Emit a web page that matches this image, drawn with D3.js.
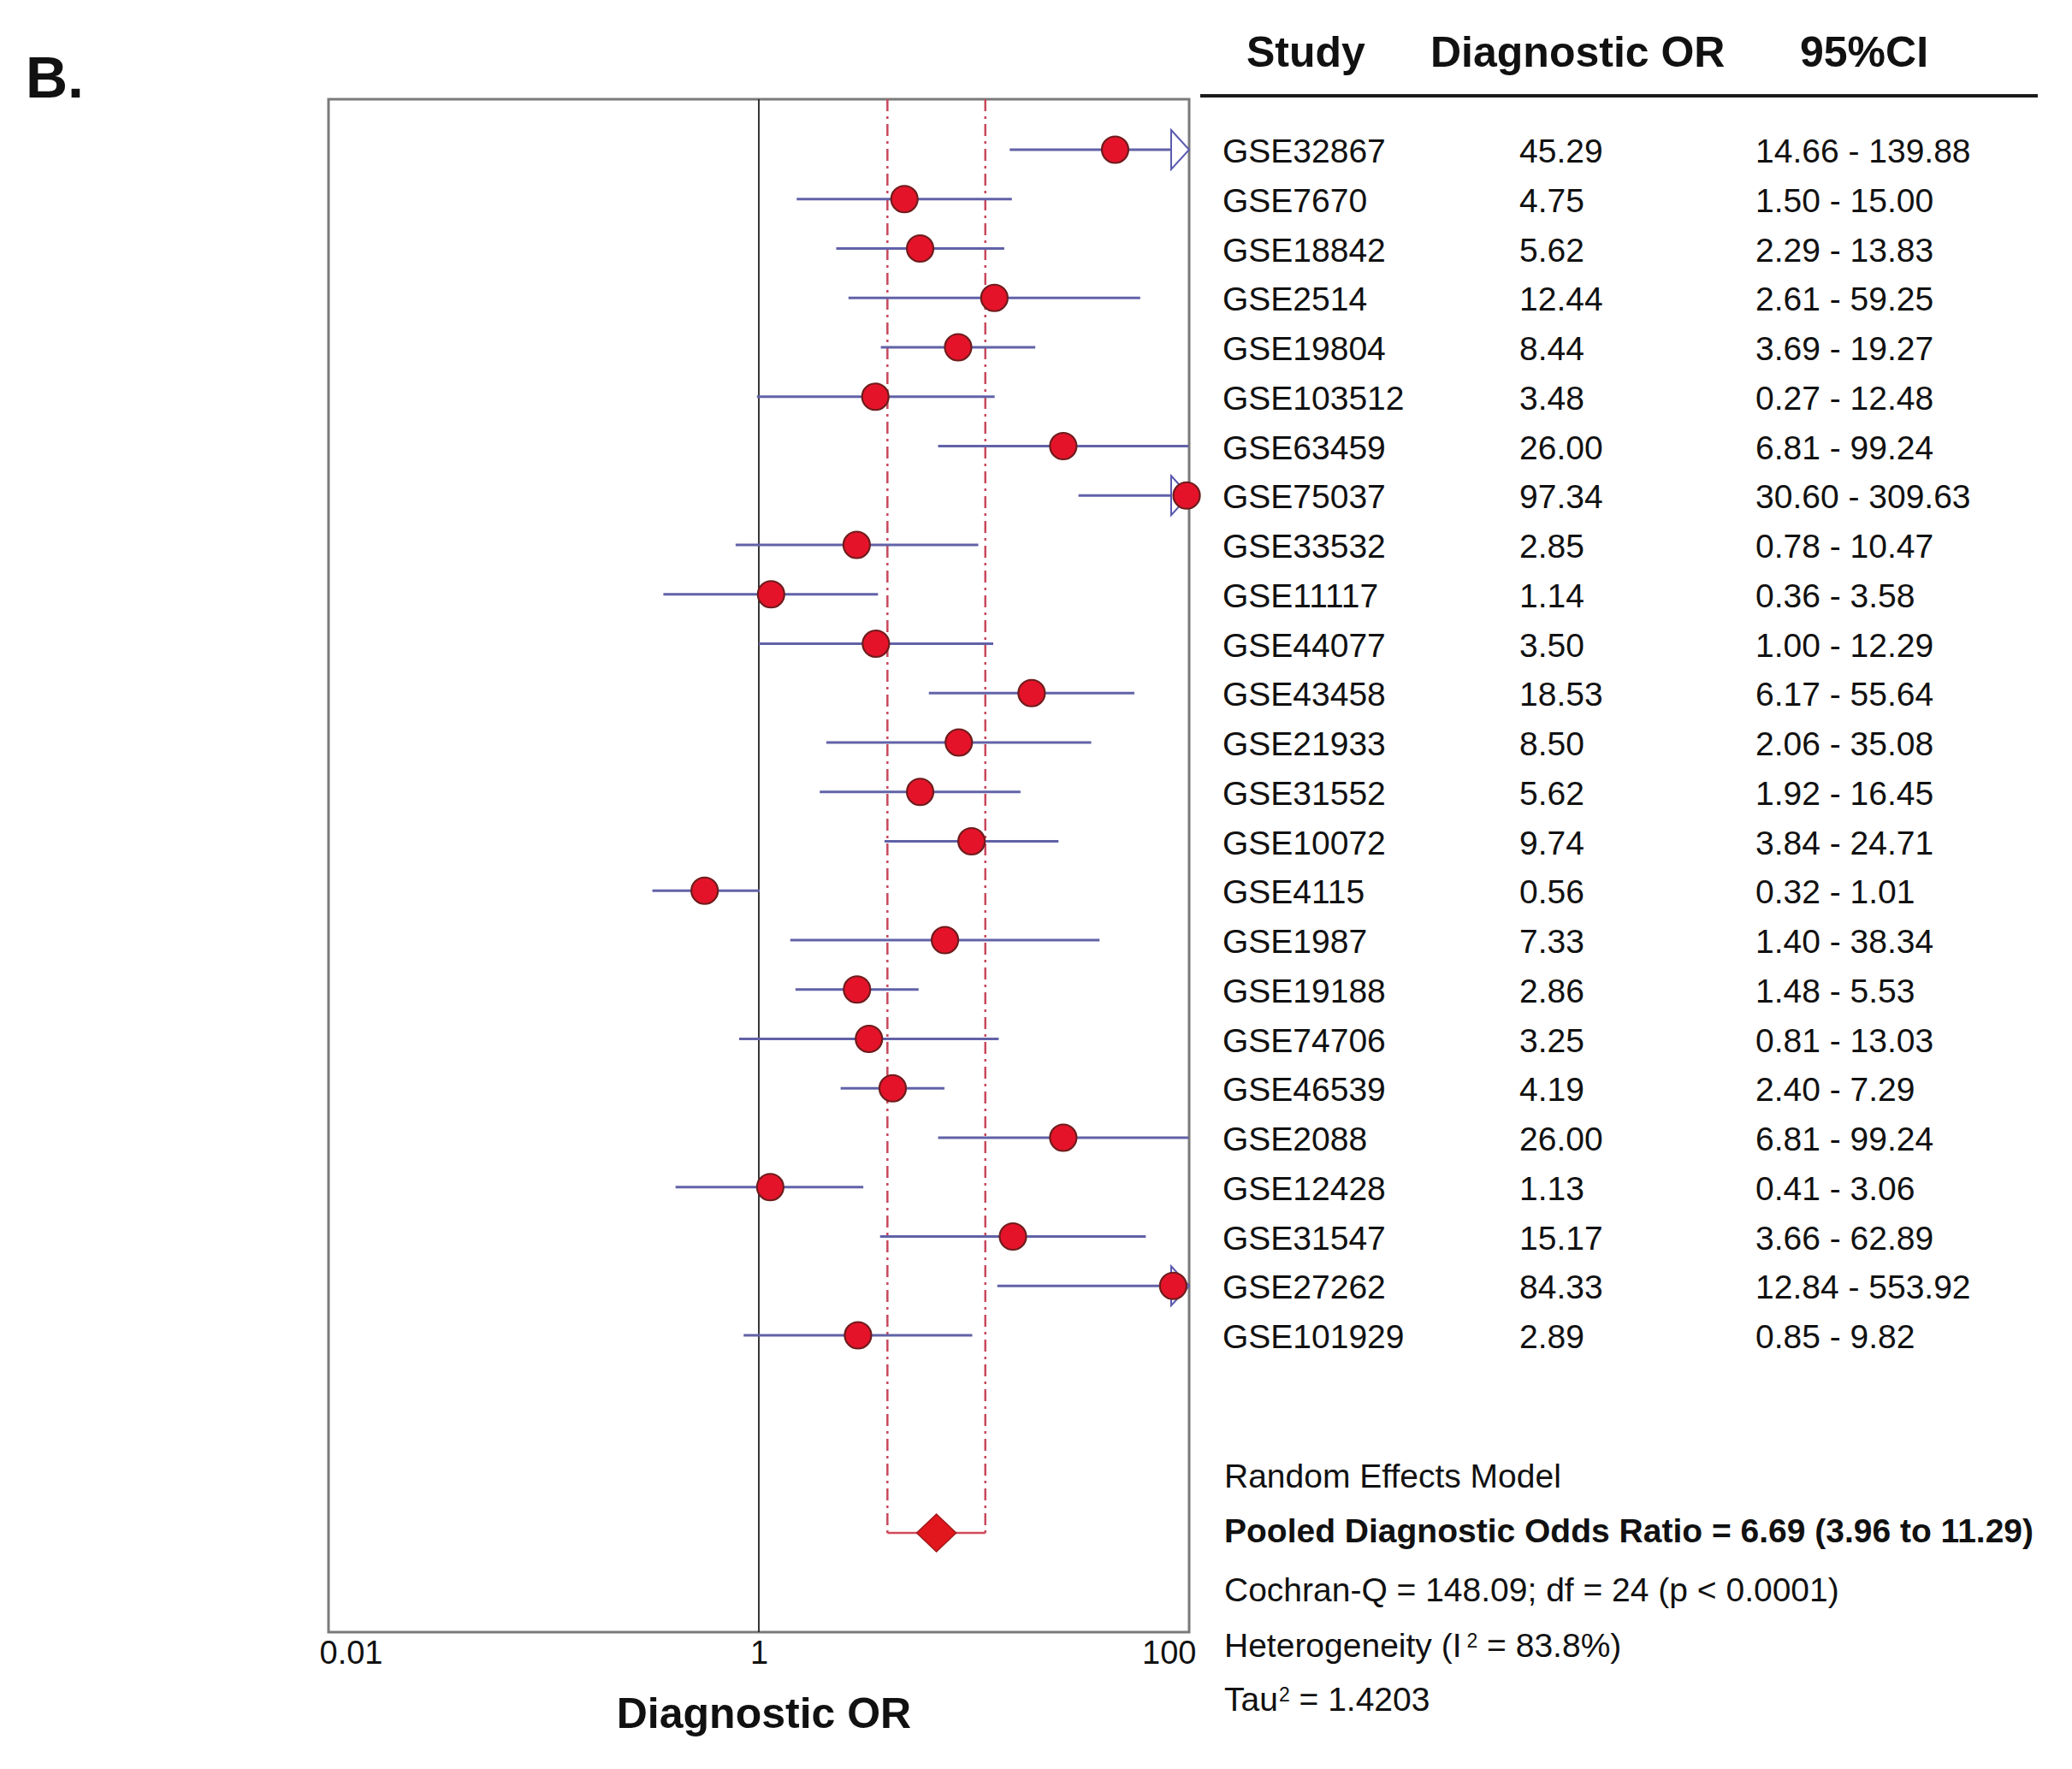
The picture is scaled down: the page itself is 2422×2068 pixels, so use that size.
<!DOCTYPE html>
<html>
<head>
<meta charset="utf-8">
<script src="https://cdn.jsdelivr.net/npm/d3@7"></script>
<style>
  body { margin: 0; background: #fff; }
  text { font-family: "Liberation Sans", Arial, sans-serif; fill: #111; }
</style>
</head>
<body>
<div id="chart"></div>
<script>
// Study rows, top to bottom.
const studies = ["GSE32867", "GSE7670", "GSE18842", "GSE2514", "GSE19804", "GSE103512",
  "GSE63459", "GSE75037", "GSE33532", "GSE11117", "GSE44077", "GSE43458", "GSE21933",
  "GSE31552", "GSE10072", "GSE4115", "GSE1987", "GSE19188", "GSE74706", "GSE46539",
  "GSE2088", "GSE12428", "GSE31547", "GSE27262", "GSE101929"];

// Diagnostic odds ratio of each study and its 95% CI (as drawn).
const dor = [45.29, 4.75, 5.62, 12.44, 8.44, 3.48, 26.00, 97.34, 2.85, 1.14, 3.50, 18.53,
  8.50, 5.62, 9.74, 0.56, 7.33, 2.86, 3.25, 4.19, 26.00, 1.13, 15.17, 84.33, 2.89];
const ciLow = [14.66, 1.50, 2.29, 2.61, 3.69, 0.98, 6.81, 30.60, 0.78, 0.36, 1.00, 6.17,
  2.06, 1.92, 3.84, 0.32, 1.40, 1.48, 0.81, 2.40, 6.81, 0.41, 3.66, 12.84, 0.85];
const ciHigh = [139.88, 15.00, 13.83, 59.25, 19.27, 12.48, 99.24, 309.63, 10.47, 3.58, 12.29,
  55.64, 35.08, 16.45, 24.71, 1.01, 38.34, 5.53, 13.03, 7.29, 99.24, 3.06, 62.89, 553.92, 9.82];

// Text columns of the table.
const dorLabels = ["45.29", "4.75", "5.62", "12.44", "8.44", "3.48", "26.00", "97.34", "2.85",
  "1.14", "3.50", "18.53", "8.50", "5.62", "9.74", "0.56", "7.33", "2.86", "3.25", "4.19",
  "26.00", "1.13", "15.17", "84.33", "2.89"];
const ciLabels = ["14.66 - 139.88", "1.50 - 15.00", "2.29 - 13.83", "2.61 - 59.25",
  "3.69 - 19.27", "0.27 - 12.48", "6.81 - 99.24", "30.60 - 309.63", "0.78 - 10.47",
  "0.36 - 3.58", "1.00 - 12.29", "6.17 - 55.64", "2.06 - 35.08", "1.92 - 16.45",
  "3.84 - 24.71", "0.32 - 1.01", "1.40 - 38.34", "1.48 - 5.53", "0.81 - 13.03",
  "2.40 - 7.29", "6.81 - 99.24", "0.41 - 3.06", "3.66 - 62.89", "12.84 - 553.92",
  "0.85 - 9.82"];

// Pooled estimate.
const pooled = { dor: 6.69, low: 3.96, high: 11.29 };

const headers = ["Study", "Diagnostic OR", "95%CI"];
const tickValues = [0.01, 1, 100];
const summaryLines = [
  "Random Effects Model",
  "Pooled Diagnostic Odds Ratio = 6.69 (3.96 to 11.29)",
  "Cochran-Q = 148.09; df = 24 (p < 0.0001)",
  "Heterogeneity (I|2| = 83.8%)",
  "Tau|2| = 1.4203"
];

const width = 2422, height = 2068;
const plot = { left: 384, right: 1390, top: 116, bottom: 1908 };

const svg = d3.select("#chart").append("svg")
  .attr("width", width)
  .attr("height", height);

svg.append("rect").attr("width", width).attr("height", height).attr("fill", "#fff");

const x = d3.scaleLog().domain([0.01, 100]).range([plot.left, plot.right]).clamp(true);
const y = d3.scalePoint().domain(studies).range([175, 1561]);
const pooledY = 1792;

// Panel letter.
svg.append("text")
  .attr("x", 30).attr("y", 114)
  .attr("font-size", 68).attr("font-weight", "bold")
  .text("B.");

// Plot frame.
svg.append("rect")
  .attr("x", plot.left).attr("y", plot.top)
  .attr("width", plot.right - plot.left).attr("height", plot.bottom - plot.top)
  .attr("fill", "none").attr("stroke", "#7a7a7a").attr("stroke-width", 3);

// Line of no effect.
svg.append("line")
  .attr("x1", x(1)).attr("x2", x(1))
  .attr("y1", plot.top).attr("y2", plot.bottom)
  .attr("stroke", "#222").attr("stroke-width", 1.8);

// Pooled CI guides.
[pooled.low, pooled.high].forEach(v => {
  svg.append("line")
    .attr("x1", x(v)).attr("x2", x(v))
    .attr("y1", plot.top).attr("y2", pooledY)
    .attr("stroke", "#c9485c").attr("stroke-width", 2.5)
    .attr("stroke-dasharray", "14,6,3,6");
});
svg.append("line")
  .attr("x1", x(pooled.low)).attr("x2", x(pooled.high))
  .attr("y1", pooledY).attr("y2", pooledY)
  .attr("stroke", "#d24a5a").attr("stroke-width", 2.5);

// CI lines.
const rows = studies.map((s, i) => ({ s, dor: dor[i], lo: ciLow[i], hi: ciHigh[i] }));

svg.append("g").selectAll("line")
  .data(rows)
  .join("line")
  .attr("x1", d => x(d.lo)).attr("x2", d => x(d.hi))
  .attr("y1", d => y(d.s)).attr("y2", d => y(d.s))
  .attr("stroke", "#6262a8").attr("stroke-width", 3.2);

// Open arrows where the CI runs past the axis.
svg.append("g").selectAll("path")
  .data(rows.filter(d => d.hi > 100))
  .join("path")
  .attr("d", d => {
    const tx = x(100), ty = y(d.s);
    return `M${tx - 21},${ty - 23}L${tx},${ty}L${tx - 21},${ty + 23}Z`;
  })
  .attr("fill", "#fff").attr("stroke", "#5a5ab0").attr("stroke-width", 2);

// Point estimates.
svg.append("g").selectAll("circle")
  .data(rows)
  .join("circle")
  .attr("cx", d => x(d.dor)).attr("cy", d => y(d.s))
  .attr("r", 15.5)
  .attr("fill", "#e5132a").attr("stroke", "#6e1c1c").attr("stroke-width", 2.2);

// Pooled diamond.
const dx = x(pooled.dor);
svg.append("path")
  .attr("d", `M${dx},${pooledY - 22}L${dx + 23},${pooledY}L${dx},${pooledY + 22}L${dx - 23},${pooledY}Z`)
  .attr("fill", "#e2161d").attr("stroke", "#a01818").attr("stroke-width", 1.5);

// X axis.
const axis = svg.append("g")
  .attr("transform", `translate(0,${plot.bottom})`)
  .call(d3.axisBottom(x).tickValues(tickValues).tickSize(0).tickPadding(10)
    .tickFormat(d3.format("~g")));
axis.select(".domain").remove();
axis.selectAll("text")
  .attr("font-size", 38).attr("font-family", "'Liberation Sans', Arial, sans-serif")
  .attr("fill", "#111")
  .attr("text-anchor", (d, i) => i === 0 ? "start" : i === tickValues.length - 1 ? "end" : "middle")
  .attr("dx", (d, i) => i === 0 ? -11 : i === tickValues.length - 1 ? 8 : 0);

svg.append("text")
  .attr("x", 893).attr("y", 2020)
  .attr("text-anchor", "middle")
  .attr("font-size", 50).attr("font-weight", "bold")
  .text("Diagnostic OR");

// Table header.
const headerX = [1457, 1672, 2104];
svg.append("g").selectAll("text")
  .data(headers)
  .join("text")
  .attr("x", (d, i) => headerX[i]).attr("y", 78)
  .attr("font-size", 50).attr("font-weight", "bold")
  .text(d => d);

svg.append("line")
  .attr("x1", 1403).attr("x2", 2382)
  .attr("y1", 112).attr("y2", 112)
  .attr("stroke", "#1a1a1a").attr("stroke-width", 4);

// Table rows.
const colX = [1429, 1776, 2052];
const table = svg.append("g").attr("font-size", 39);
[studies, dorLabels, ciLabels].forEach((col, c) => {
  table.append("g").selectAll("text")
    .data(col)
    .join("text")
    .attr("x", colX[c])
    .attr("y", (d, i) => y(studies[i]) + 15)
    .text(d => d);
});

// Summary statistics.
const summaryY = [1739, 1803, 1872, 1937, 2000];
summaryLines.forEach((line, i) => {
  const t = svg.append("text")
    .attr("x", 1431).attr("y", summaryY[i])
    .attr("font-size", 39)
    .attr("font-weight", i === 1 ? "bold" : "normal");
  line.split("|").forEach((part, j) => {
    const span = t.append("tspan").text(part);
    if (j % 2 === 1) span.attr("font-size", 23).attr("baseline-shift", "50%").attr("dx", i === 3 ? 6 : 1);
  });
});
</script>
</body>
</html>
